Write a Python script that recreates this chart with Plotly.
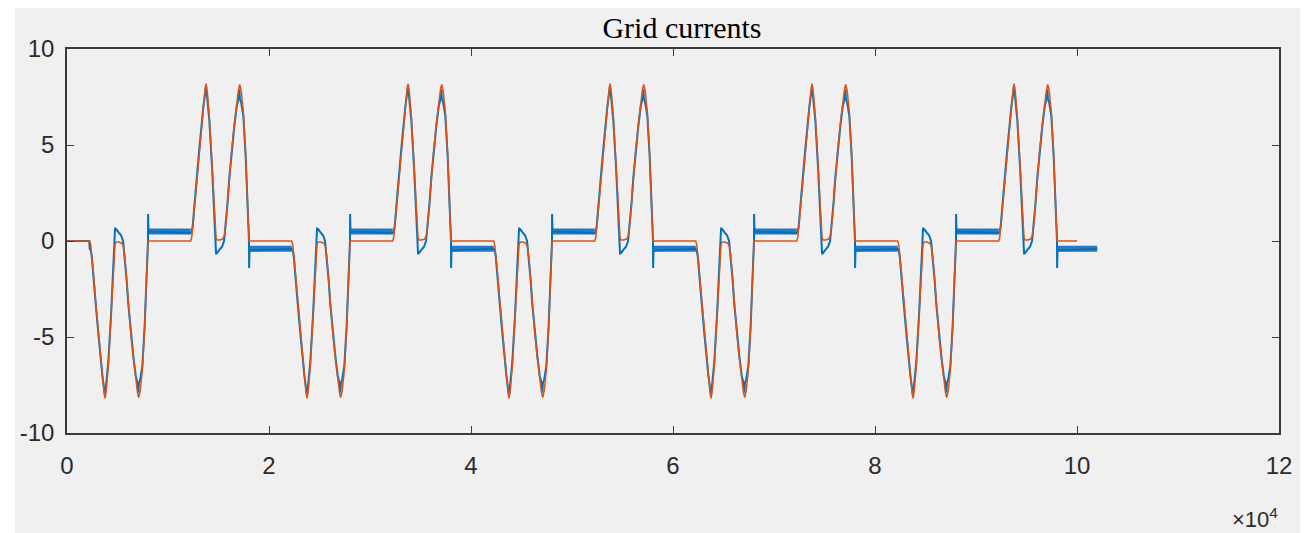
import plotly.graph_objects as go

# ---------------- data ----------------
# start sample of each 20000-sample cycle
cycle_starts = [0, 20000, 40000, 60000, 80000]
half_cycle = 10000

# reference current (red) over one negative double-hump lobe: sample offset, value
ref_lobe_t = [2250, 2350, 2450, 2650, 2850, 3100, 3300, 3500, 3650, 3770, 3900, 4090,
              4375, 4590, 4750, 4850, 5100, 5400, 5600, 5750, 5900, 6070, 6300, 6570,
              6800, 6980, 7100, 7250, 7460, 7690, 7890, 8030]
ref_lobe_v = [0.0, -0.2, -0.7, -1.9, -3.3, -4.8, -6.0, -7.1, -7.8, -8.2, -7.7, -6.5,
              -3.9, -1.3, -0.2, -0.05, -0.05, -0.1, -0.3, -1.0, -2.0, -3.4, -4.7, -6.1,
              -7.2, -7.9, -8.15, -7.8, -6.7, -4.5, -1.7, 0.0]
ref_end = 100000

# measured current (blue) over one negative lobe: sample offset, value
meas_lobe_t = [2250, 2350, 2450, 2650, 2850, 3100, 3300, 3500, 3650, 3760, 3800, 3900,
               4090, 4375, 4590, 4700, 4760, 4800, 4900, 5100, 5350, 5550, 5700, 5900,
               6070, 6300, 6570, 6800, 6980, 7060, 7120, 7250, 7460, 7690, 7890, 8020,
               8030, 8070]
meas_lobe_v = [-0.4, -0.5, -0.8, -1.9, -3.3, -4.8, -6.0, -7.0, -7.6, -8.1, -7.9, -7.4,
               -6.3, -3.7, -1.0, 0.1, 0.7, 0.55, 0.6, 0.45, 0.3, 0.0, -0.8, -2.0,
               -3.3, -4.6, -6.0, -7.0, -7.4, -7.9, -7.4, -7.2, -6.5, -4.4, -1.6, 0.0,
               1.4, 0.5]
meas_lead_t = [0, 2200]
meas_lead_v = [0.0, 0.0]

# noisy flat stretches of the measured current between lobes
band_start = [8070, 18070, 28070, 38070, 48070, 58070, 68070, 78070, 88070, 98070]
band_end = [12250, 22250, 32250, 42250, 52250, 62250, 72250, 82250, 92250, 102000]
band_level = [0.5, -0.4, 0.5, -0.4, 0.5, -0.4, 0.5, -0.4, 0.5, -0.4]

x_tick_vals = [0, 20000, 40000, 60000, 80000, 100000, 120000]
x_tick_text = ["0", "2", "4", "6", "8", "10", "12"]
y_tick_vals = [-10, -5, 0, 5, 10]
y_tick_text = ["-10", "-5", "0", "5", "10"]

# ---------------- build series ----------------
ref_x, ref_y = [0], [0.0]
meas_x, meas_y = list(meas_lead_t), list(meas_lead_v)
for c in cycle_starts:
    for sign, shift in ((1, 0), (-1, half_cycle)):
        ref_x += [c + shift + t for t in ref_lobe_t]
        ref_y += [sign * v for v in ref_lobe_v]
        meas_x += [c + shift + t for t in meas_lobe_t]
        meas_y += [sign * v for v in meas_lobe_v]
ref_x.append(ref_end)
ref_y.append(0.0)
meas_x.append(band_end[-1])
meas_y.append(band_level[-1])

bx, by = [], []
for s, e, lv in zip(band_start, band_end, band_level):
    bx += [s, e, None]
    by += [lv, lv, None]

BLUE = "#0072BD"
RED = "#D95319"

fig = go.Figure()
fig.add_trace(go.Scatter(x=bx, y=by, mode="lines", line=dict(color="#1f72c0", width=6),
                         opacity=0.95, hoverinfo="skip", showlegend=False, connectgaps=False))
fig.add_trace(go.Scatter(x=meas_x, y=meas_y, mode="lines", line=dict(color=BLUE, width=2),
                         showlegend=False))
fig.add_trace(go.Scatter(x=ref_x, y=ref_y, mode="lines", line=dict(color=RED, width=1.5),
                         showlegend=False))

# the page body adds an 8px offset, so the figure is 8px smaller than the window
OFF = 8
W, H = 1314 - OFF, 533 - OFF
L, R, T, B = 67 - OFF, 35, 49 - OFF, 100
pw, ph = W - L - R, H - T - B

def px_x(p):  # screen pixel -> paper x
    return (p - OFF - L) / pw

def px_y(p):  # screen pixel -> paper y
    return (H - B - (p - OFF)) / ph

GRAY = "#f0f0f0"
AX = "#3a3a3a"
TXT = "#2b2b2b"

fig.update_layout(
    width=W, height=H,
    margin=dict(l=L, r=R, t=T, b=B),
    paper_bgcolor="white",
    plot_bgcolor=GRAY,
    showlegend=False,
    title=dict(text="Grid currents", x=px_x(682), xref="paper", xanchor="center",
               y=1 - (27 - OFF) / H, yref="container", yanchor="middle",
               font=dict(family="Liberation Serif, Times New Roman, serif", size=30, color="black")),
    shapes=[dict(type="rect", xref="paper", yref="paper", layer="below",
                 x0=px_x(15), x1=px_x(1300), y0=px_y(8), y1=px_y(540),
                 fillcolor=GRAY, line=dict(width=0))],
    annotations=[dict(text="×10<sup>4</sup>", xref="paper", yref="paper",
                      x=px_x(1280), y=px_y(518), xanchor="right", yanchor="middle",
                      showarrow=False,
                      font=dict(family="Liberation Sans, Arial, sans-serif", size=22, color=TXT))],
)
fig.update_xaxes(range=[0, 120000], tickvals=x_tick_vals, ticktext=x_tick_text,
                 showline=True, linecolor=AX, linewidth=1.5, mirror="ticks",
                 ticks="inside", ticklen=7, tickwidth=1.2, tickcolor=AX,
                 showgrid=False, zeroline=False, ticklabelstandoff=10,
                 tickfont=dict(family="Liberation Sans, Arial, sans-serif", size=24, color=TXT))
fig.update_yaxes(range=[-10, 10], tickvals=y_tick_vals, ticktext=y_tick_text,
                 showline=True, linecolor=AX, linewidth=1.5, mirror="ticks",
                 ticks="inside", ticklen=7, tickwidth=1.2, tickcolor=AX,
                 showgrid=False, zeroline=False, ticklabelstandoff=6,
                 tickfont=dict(family="Liberation Sans, Arial, sans-serif", size=24, color=TXT))

fig.write_html("out.html")
